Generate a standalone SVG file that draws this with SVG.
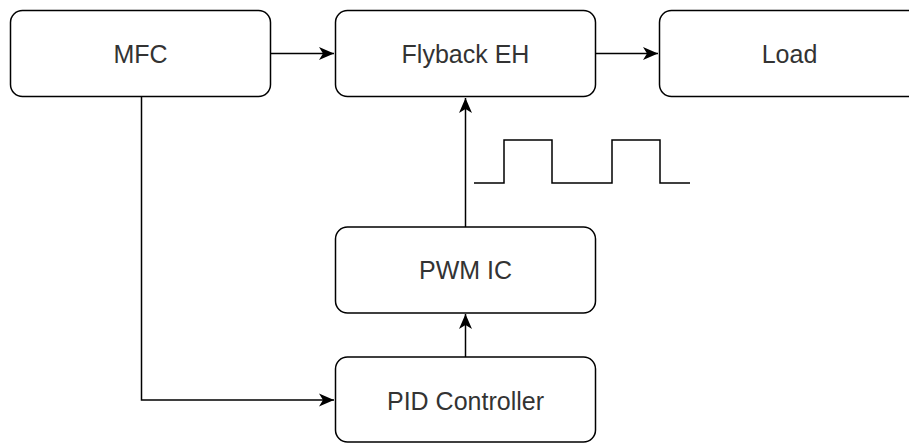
<svg xmlns="http://www.w3.org/2000/svg" width="909" height="443" viewBox="0 0 909 443">
<style>
.box{fill:#fff;stroke:#000;stroke-width:1.5}
.lbl{font-family:"Liberation Sans",Arial,sans-serif;font-size:25px;fill:#333;text-anchor:middle}
.edge{fill:none;stroke:#000;stroke-width:1.5}
</style>
<defs>
<marker id="arr" viewBox="0 0 16 14" refX="15" refY="7" markerWidth="16" markerHeight="14" markerUnits="userSpaceOnUse" orient="auto">
<path d="M0,0.5 L15,7 L0,13.5 L4,7 Z" fill="#000"/>
</marker>
</defs>
<rect width="909" height="443" fill="#fff"/>
<g id="connectors">
<path class="edge" d="M271,53.5 H334" marker-end="url(#arr)"/>
<path class="edge" d="M596,53.5 H658" marker-end="url(#arr)"/>
<path class="edge" d="M465.5,227 V98" marker-end="url(#arr)"/>
<path class="edge" d="M465.5,357 V314" marker-end="url(#arr)"/>
<path class="edge" d="M141.5,97 V400 H334" marker-end="url(#arr)"/>
</g>
<g id="node-mfc">
<rect class="box" x="10.5" y="10.5" width="260" height="86" rx="12"/>
<text class="lbl" x="140.5" y="62.5">MFC</text>
</g>
<g id="node-flyback">
<rect class="box" x="335.5" y="10.5" width="260" height="86" rx="12"/>
<text class="lbl" x="465.5" y="62.5">Flyback EH</text>
</g>
<g id="node-load">
<rect class="box" x="659.5" y="10.5" width="260" height="86" rx="12"/>
<text class="lbl" x="789.5" y="62.5">Load</text>
</g>
<g id="node-pwm">
<rect class="box" x="335.5" y="227" width="260" height="86" rx="12"/>
<text class="lbl" x="465.5" y="279">PWM IC</text>
</g>
<g id="node-pid">
<rect class="box" x="335.5" y="357" width="260" height="85" rx="12"/>
<text class="lbl" x="465.5" y="409.5">PID Controller</text>
</g>
<g id="pwm-signal">
<path class="edge" d="M474,183 H504 V140 H552 V183 H582 H612 V140 H660 V183 H690"/>
</g>
</svg>
